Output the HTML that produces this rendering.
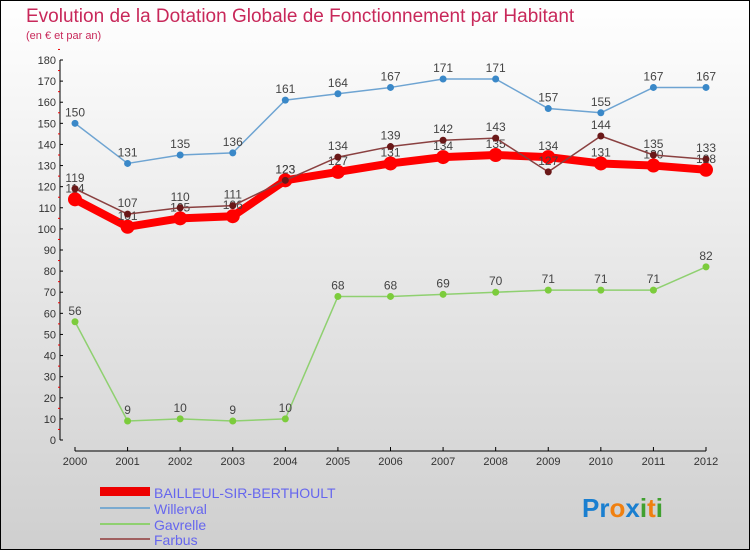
<!DOCTYPE html>
<html><head><meta charset="utf-8"><style>
body{margin:0}
svg{display:block;font-family:"Liberation Sans",sans-serif}
</style></head><body>
<svg id="c" width="750" height="550" viewBox="0 0 750 550">
<defs><linearGradient id="bg" x1="0" y1="0" x2="0" y2="1"><stop offset="0" stop-color="#ffffff"/><stop offset="1" stop-color="#cfcfcf"/></linearGradient></defs>
<rect x="0.5" y="0.5" width="749" height="549" fill="url(#bg)" stroke="#000"/>
<text x="26" y="22" font-size="19" fill="#c8285a">Evolution de la Dotation Globale de Fonctionnement par Habitant</text>
<text x="26" y="39" font-size="11" fill="#c8285a">(en € et par an)</text>
<g id="axes"></g><g id="series"></g>
<g>
<rect x="100" y="487" width="50" height="9" fill="#e00"/>
<text x="154" y="498" font-size="14" fill="#6666ee">BAILLEUL-SIR-BERTHOULT</text>
<line x1="100" y1="508" x2="150" y2="508" stroke="#7aaad0" stroke-width="2"/>
<text x="154" y="514" font-size="14" fill="#6666ee">Willerval</text>
<line x1="100" y1="524" x2="150" y2="524" stroke="#8fd070" stroke-width="2"/>
<text x="154" y="530" font-size="14" fill="#6666ee">Gavrelle</text>
<line x1="100" y1="539" x2="150" y2="539" stroke="#a06060" stroke-width="2"/>
<text x="154" y="545" font-size="14" fill="#6666ee">Farbus</text>
</g>
<text x="582" y="517" font-size="26" font-weight="bold"><tspan fill="#1a7fd0">Pr</tspan><tspan fill="#f08010">o</tspan><tspan fill="#1a7fd0">x</tspan><tspan fill="#40a030">i</tspan><tspan fill="#f08010">t</tspan><tspan fill="#40a030">i</tspan></text>
</svg>
<script>
const years=[2000,2001,2002,2003,2004,2005,2006,2007,2008,2009,2010,2011,2012];
const bailleul=[114,101,105,106,123,127,131,134,135,134,131,130,128];
const willerval=[150,131,135,136,161,164,167,171,171,157,155,167,167];
const gavrelle=[56,9,10,9,10,68,68,69,70,71,71,71,82];
const farbus=[119,107,110,111,123,134,139,142,143,127,144,135,133];
const yTicks=[0,10,20,30,40,50,60,70,80,90,100,110,120,130,140,150,160,170,180];
const NS="http://www.w3.org/2000/svg";
const X=i=>75+i*(706-75)/(years.length-1);
const Y=v=>440-v*(380/180);
function mk(tag,at,parent){const e=document.createElementNS(NS,tag);for(const k in at)e.setAttribute(k,at[k]);parent.appendChild(e);return e;}
const ax=document.getElementById('axes');
let l=mk('line',{x1:60,y1:Y(0),x2:60,y2:Y(180),stroke:'#000'},ax);


yTicks.forEach(v=>{
 mk('line',{x1:60,y1:Y(v),x2:63,y2:Y(v),stroke:'#000'},ax);
 mk('line',{x1:58,y1:Y(v+5),x2:60,y2:Y(v+5),stroke:'#e00'},ax);
 const t=mk('text',{x:56,y:Y(v)+4,'font-size':11,fill:'#333','text-anchor':'end'},ax);t.textContent=v;
 
 
});
l=mk('line',{x1:X(0),y1:451,x2:X(12),y2:451,stroke:'#000'},ax);


years.forEach((y,i)=>{
 mk('line',{x1:X(i),y1:447,x2:X(i),y2:451,stroke:'#000'},ax);
 const t=mk('text',{x:X(i),y:465,'font-size':11,fill:'#333','text-anchor':'middle'},ax);t.textContent=y;
 
 
});
const sg=document.getElementById('series');
function series(name,data,color,w,r,dot,lblOff){
 const g=mk('g',{},sg);
 
 
 const p=mk('polyline',{points:data.map((v,i)=>X(i)+','+Y(v)).join(' '),fill:'none',stroke:color,'stroke-width':w,'stroke-linejoin':'round'},g);
 
 
 data.forEach((v,i)=>{
  const c=mk('circle',{cx:X(i),cy:Y(v),r:r,fill:dot},g);
  
  
  const t=mk('text',{x:X(i),y:Y(v)+lblOff,'font-size':12,fill:'#444','text-anchor':'middle'},g);t.textContent=v;
  
  
 });
}
series('gavrelle',gavrelle,'#8fd070',1.5,3.5,'#7ccc3c',-7);
series('willerval',willerval,'#6ea4d2',1.5,3.5,'#3a88c8',-7);
series('bailleul',bailleul,'#ff0000',8,7,'#ff0000',-7);
series('farbus',farbus,'#8a4040',1.5,3.5,'#6a1818',-7);
</script>
</body></html>
